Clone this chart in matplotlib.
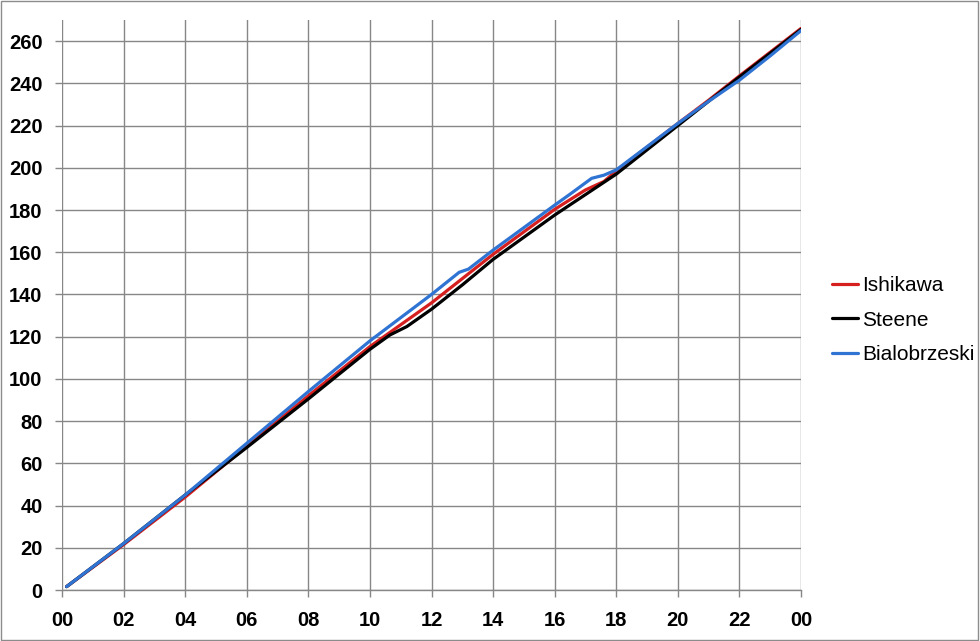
import matplotlib
matplotlib.use("Agg")
import matplotlib.pyplot as plt
from matplotlib.patches import Rectangle


# values (hours of day vs cumulative value)
ishikawa_h = [0.15, 2, 4, 6, 8, 10, 12, 13, 14, 16, 17, 17.6, 18, 20, 21, 22, 24]
ishikawa_v = [1.6, 21.5, 44, 68, 92, 115.3, 136, 147.5, 159, 180.3, 189.5, 193.5, 198.5, 221, 232, 243.5, 266]

steene_h = [0.15, 2, 4, 6, 8, 10, 10.65, 11.2, 12, 13, 14, 16, 18, 20, 22, 24]
steene_v = [1.6, 22, 45, 67.5, 90.5, 114, 120.8, 124.8, 133, 144.5, 156.6, 177.6, 197, 220, 243, 265.5]

bialo_h = [0.15, 2, 4, 6, 8, 10, 12, 12.9, 13.2, 14, 16, 16.5, 17.2, 17.6, 18, 20, 21, 22, 23, 24]
bialo_v = [1.6, 22, 45, 69.5, 94, 118, 140, 150.5, 152, 161, 182.3, 187.5, 195, 196.5, 199, 221, 231.5, 241.5, 253, 265]

x_ticks = list(range(0, 25, 2))
x_labels = ["00", "02", "04", "06", "08", "10", "12", "14", "16", "18", "20", "22", "00"]
y_ticks = list(range(0, 261, 20))

plt.rcParams['font.family'] = ['Liberation Sans', 'DejaVu Sans']

fig = plt.figure(figsize=(9.8, 6.41), dpi=100)
ax = fig.add_axes([62 / 980, 1 - 590 / 641, (801 - 62) / 980, (590 - 20) / 641])

ax.plot(ishikawa_h, ishikawa_v, color="#d61f1f", lw=2.3, label="Ishikawa", solid_capstyle="round")
ax.plot(steene_h, steene_v, color="#000000", lw=2.3, label="Steene", solid_capstyle="round")
ax.plot(bialo_h, bialo_v, color="#2f73d3", lw=2.3, label="Bialobrzeski", solid_capstyle="round")

ax.set_xlim(0, 24)
ax.set_ylim(0, 270)
ax.set_xticks(x_ticks)
ax.set_xticklabels(x_labels)
ax.set_yticks(y_ticks)

ax.grid(True, color="#878787", lw=1)
ax.set_axisbelow(True)
for s in ["top", "right", "left"]:
    ax.spines[s].set_visible(False)
ax.spines["bottom"].set_color("#878787")
ax.spines["bottom"].set_linewidth(1)

ax.tick_params(axis="both", direction="out", length=5, width=1, color="#878787",
               labelsize=14.5, labelcolor="black")
ax.tick_params(axis="y", pad=9)
ax.tick_params(axis="x", pad=10)
for lab in ax.get_xticklabels() + ax.get_yticklabels():
    lab.set_fontweight("bold")

fig.legend(loc="center left", bbox_to_anchor=(832 / 980, 1 - 320 / 641),
           frameon=False, fontsize=15, handlelength=1.25, handletextpad=0.2,
           labelspacing=0.75, borderpad=0, borderaxespad=0)

# thin grey frame around the whole picture
fig.patches.append(Rectangle((0.001, 0.002), 0.997, 0.996, transform=fig.transFigure,
                             fill=False, edgecolor="#8c8c8c", lw=1))

fig.savefig("out.png", dpi=100)
